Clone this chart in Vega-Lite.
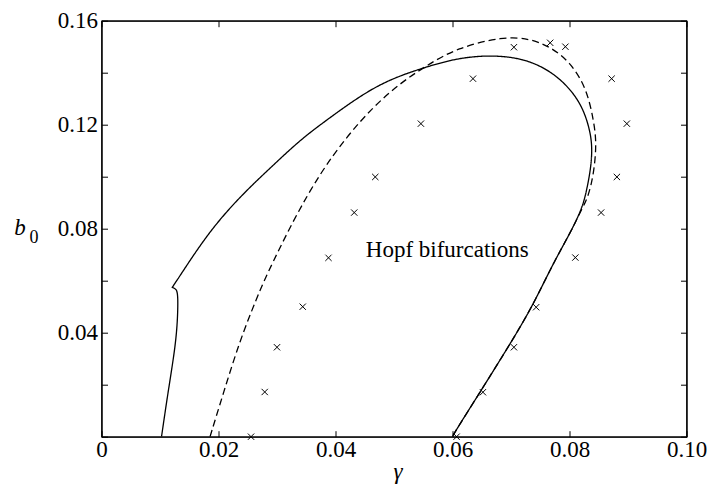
{
  "$schema": "https://vega.github.io/schema/vega-lite/v6.json",
  "width": 585,
  "height": 416,
  "autosize": "none",
  "padding": {"left": 101.5, "top": 20.7, "right": 22.5, "bottom": 48.3},
  "background": "white",
  "config": {
    "view": {"stroke": "black", "strokeWidth": 1.2},
    "style": {"guide-label": {"font": "Liberation Serif", "fontSize": 23, "fill": "black"}},
    "axis": {
      "grid": false,
      "domainColor": "black",
      "domainWidth": 1.2,
      "tickColor": "black",
      "tickWidth": 1,
      "tickSize": -6,
      "labelFont": "Liberation Serif",
      "labelFontSize": 23,
      "labelColor": "black"
    }
  },
  "datasets": {
    "curves": [
      {"series": "solid", "i": 0, "g": 0.01026, "b": 0},
      {"series": "solid", "i": 1, "g": 0.01137, "b": 0.01719},
      {"series": "solid", "i": 2, "g": 0.01282, "b": 0.03719},
      {"series": "solid", "i": 3, "g": 0.01308, "b": 0.05},
      {"series": "solid", "i": 4, "g": 0.01302, "b": 0.05527},
      {"series": "solid", "i": 5, "g": 0.01274, "b": 0.05682},
      {"series": "solid", "i": 6, "g": 0.0121, "b": 0.05746},
      {"series": "solid", "i": 7, "g": 0.0121, "b": 0.05746},
      {"series": "solid", "i": 8, "g": 0.0121, "b": 0.05746},
      {"series": "solid", "i": 9, "g": 0.01313, "b": 0.06092},
      {"series": "solid", "i": 10, "g": 0.01855, "b": 0.0795},
      {"series": "solid", "i": 11, "g": 0.02424, "b": 0.09362},
      {"series": "solid", "i": 12, "g": 0.0288, "b": 0.10323},
      {"series": "solid", "i": 13, "g": 0.03393, "b": 0.11412},
      {"series": "solid", "i": 14, "g": 0.0385, "b": 0.12181},
      {"series": "solid", "i": 15, "g": 0.04419, "b": 0.13108},
      {"series": "solid", "i": 16, "g": 0.04932, "b": 0.13756},
      {"series": "solid", "i": 17, "g": 0.05559, "b": 0.14231},
      {"series": "solid", "i": 18, "g": 0.06072, "b": 0.14554},
      {"series": "solid", "i": 19, "g": 0.06641, "b": 0.14684},
      {"series": "solid", "i": 20, "g": 0.0721, "b": 0.14554},
      {"series": "solid", "i": 21, "g": 0.07667, "b": 0.14088},
      {"series": "solid", "i": 22, "g": 0.08009, "b": 0.134},
      {"series": "solid", "i": 23, "g": 0.08236, "b": 0.12631},
      {"series": "solid", "i": 24, "g": 0.0836, "b": 0.11704},
      {"series": "solid", "i": 25, "g": 0.08389, "b": 0.11027},
      {"series": "solid", "i": 26, "g": 0.0836, "b": 0.10258},
      {"series": "solid", "i": 27, "g": 0.08294, "b": 0.09488},
      {"series": "solid", "i": 28, "g": 0.0822, "b": 0.088},
      {"series": "solid", "i": 29, "g": 0.0801, "b": 0.0782},
      {"series": "solid", "i": 30, "g": 0.0772, "b": 0.0667},
      {"series": "solid", "i": 31, "g": 0.0736, "b": 0.0498},
      {"series": "solid", "i": 32, "g": 0.0695, "b": 0.0344},
      {"series": "solid", "i": 33, "g": 0.0647, "b": 0.0171},
      {"series": "solid", "i": 34, "g": 0.06026, "b": 0.0013},
      {"series": "solid", "i": 35, "g": 0.06, "b": 0},
      {"series": "dashed", "i": 0, "g": 0.01855, "b": 0},
      {"series": "dashed", "i": 1, "g": 0.02082, "b": 0.01669},
      {"series": "dashed", "i": 2, "g": 0.02368, "b": 0.03719},
      {"series": "dashed", "i": 3, "g": 0.02653, "b": 0.05323},
      {"series": "dashed", "i": 4, "g": 0.02795, "b": 0.06092},
      {"series": "dashed", "i": 5, "g": 0.03279, "b": 0.08335},
      {"series": "dashed", "i": 6, "g": 0.03735, "b": 0.10131},
      {"series": "dashed", "i": 7, "g": 0.04191, "b": 0.11538},
      {"series": "dashed", "i": 8, "g": 0.04646, "b": 0.12692},
      {"series": "dashed", "i": 9, "g": 0.05103, "b": 0.13592},
      {"series": "dashed", "i": 10, "g": 0.05559, "b": 0.14281},
      {"series": "dashed", "i": 11, "g": 0.06072, "b": 0.1495},
      {"series": "dashed", "i": 12, "g": 0.06868, "b": 0.15396},
      {"series": "dashed", "i": 13, "g": 0.07325, "b": 0.15308},
      {"series": "dashed", "i": 14, "g": 0.07667, "b": 0.15},
      {"series": "dashed", "i": 15, "g": 0.08009, "b": 0.14423},
      {"series": "dashed", "i": 16, "g": 0.08294, "b": 0.134},
      {"series": "dashed", "i": 17, "g": 0.08417, "b": 0.12115},
      {"series": "dashed", "i": 18, "g": 0.08463, "b": 0.11285},
      {"series": "dashed", "i": 19, "g": 0.08417, "b": 0.10131},
      {"series": "dashed", "i": 20, "g": 0.08321, "b": 0.09231},
      {"series": "dashed", "i": 21, "g": 0.0822, "b": 0.088},
      {"series": "dashed", "i": 22, "g": 0.0801, "b": 0.0782},
      {"series": "dashed", "i": 23, "g": 0.0772, "b": 0.0667},
      {"series": "dashed", "i": 24, "g": 0.0736, "b": 0.0498},
      {"series": "dashed", "i": 25, "g": 0.0695, "b": 0.0344},
      {"series": "dashed", "i": 26, "g": 0.0647, "b": 0.0171},
      {"series": "dashed", "i": 27, "g": 0.06026, "b": 0.0013},
      {"series": "dashed", "i": 28, "g": 0.06, "b": 0}
    ],
    "crosses": [
      {"g": 0.02556, "b": 0},
      {"g": 0.0279, "b": 0.0172},
      {"g": 0.03, "b": 0.0344},
      {"g": 0.0344, "b": 0.05},
      {"g": 0.0388, "b": 0.0688},
      {"g": 0.0432, "b": 0.0862},
      {"g": 0.0468, "b": 0.0999},
      {"g": 0.0546, "b": 0.1204},
      {"g": 0.0635, "b": 0.1377},
      {"g": 0.0705, "b": 0.1498},
      {"g": 0.0767, "b": 0.1515},
      {"g": 0.0793, "b": 0.15},
      {"g": 0.0872, "b": 0.1377},
      {"g": 0.0898, "b": 0.1204},
      {"g": 0.0881, "b": 0.0999},
      {"g": 0.0854, "b": 0.0862},
      {"g": 0.081, "b": 0.0689},
      {"g": 0.0743, "b": 0.0498},
      {"g": 0.0705, "b": 0.0344},
      {"g": 0.0652, "b": 0.0171},
      {"g": 0.0607, "b": 0}
    ],
    "labels": [
      {"label": "Hopf bifurcations", "g": 0.0591, "b": 0.0691}
    ]
  },
  "layer": [
    {
      "data": {"name": "curves"},
      "mark": {"type": "line", "color": "black", "strokeWidth": 1.3, "interpolate": "basis", "clip": true},
      "encoding": {
        "x": {
          "field": "g", "type": "quantitative",
          "scale": {"domain": [0, 0.1], "nice": false, "zero": false},
          "axis": {
            "orient": "bottom",
            "values": [0, 0.02, 0.04, 0.06, 0.08, 0.1],
            "labelExpr": "datum.value == 0 ? '0' : format(datum.value, '.2f')",
            "labelFont": "Liberation Serif",
            "labelFontSize": 23,
            "labelColor": "black",
            "labelPadding": 8,
            "labelFlush": false,
            "labelOverlap": false,
            "encode": {"labels": {"update": {"font": {"value": "Liberation Serif"}, "fontSize": {"value": 23}, "fill": {"value": "black"}}}},
            "title": "γ",
            "titleFont": "Liberation Serif",
            "titleFontWeight": "normal",
            "titleColor": "black",
            "titleFontStyle": "italic",
            "titleFontSize": 23,
            "titleX": 296,
            "titleY": 42,
            "titleBaseline": "alphabetic",
            "titleAlign": "center"
          }
        },
        "y": {
          "field": "b", "type": "quantitative",
          "scale": {"domain": [0, 0.16], "nice": false, "zero": false},
          "axis": {
            "orient": "left",
            "values": [0, 0.02, 0.04, 0.06, 0.08, 0.1, 0.12, 0.14, 0.16],
            "labelExpr": "indexof([0.04, 0.08, 0.12, 0.16], datum.value) >= 0 ? format(datum.value, '.2f') : ''",
            "labelFont": "Liberation Serif",
            "labelFontSize": 23,
            "labelColor": "black",
            "labelPadding": 10,
            "labelFlush": false,
            "labelOverlap": false,
            "encode": {"labels": {"update": {"font": {"value": "Liberation Serif"}, "fontSize": {"value": 23}, "fill": {"value": "black"}}}},
            "title": "b",
            "titleFont": "Liberation Serif",
            "titleFontWeight": "normal",
            "titleColor": "black",
            "titleFontStyle": "italic",
            "titleFontSize": 23,
            "titleAngle": 0,
            "titleX": -82,
            "titleY": 214,
            "titleAlign": "center",
            "titleBaseline": "alphabetic"
          }
        },
        "strokeDash": {
          "field": "series", "type": "nominal",
          "scale": {"domain": ["solid", "dashed"], "range": [[1, 0], [7, 4]]},
          "legend": null
        },
        "detail": {"field": "series"},
        "order": {"field": "i", "type": "quantitative"}
      }
    },
    {
      "data": {"name": "crosses"},
      "mark": {"type": "point", "shape": "M-1,-1L1,1M-1,1L1,-1", "size": 40, "filled": false, "color": "black", "strokeWidth": 1, "opacity": 1, "clip": false},
      "encoding": {
        "x": {
          "field": "g", "type": "quantitative",
          "scale": {"domain": [0, 0.1], "nice": false, "zero": false},
          "axis": {
            "orient": "top",
            "values": [0, 0.02, 0.04, 0.06, 0.08, 0.1],
            "labels": false,
            "title": null
          }
        },
        "y": {
          "field": "b", "type": "quantitative",
          "scale": {"domain": [0, 0.16], "nice": false, "zero": false},
          "axis": {
            "orient": "right",
            "values": [0, 0.02, 0.04, 0.06, 0.08, 0.1, 0.12, 0.14, 0.16],
            "labels": false,
            "title": "0",
            "titleFont": "Liberation Serif",
            "titleFontSize": 18,
            "titleFontWeight": "normal",
            "titleColor": "black",
            "titleFontStyle": "normal",
            "titleAngle": 0,
            "titleX": -653,
            "titleY": 222,
            "titleAlign": "center",
            "titleBaseline": "alphabetic"
          }
        }
      }
    },
    {
      "data": {"name": "labels"},
      "mark": {"type": "text", "font": "Liberation Serif", "fontSize": 23, "color": "black", "align": "center", "baseline": "alphabetic"},
      "encoding": {
        "x": {"field": "g", "type": "quantitative", "scale": {"domain": [0, 0.1], "nice": false, "zero": false}, "axis": null},
        "y": {"field": "b", "type": "quantitative", "scale": {"domain": [0, 0.16], "nice": false, "zero": false}, "axis": null},
        "text": {"field": "label"}
      }
    }
  ],
  "resolve": {"axis": {"x": "independent", "y": "independent"}}
}
